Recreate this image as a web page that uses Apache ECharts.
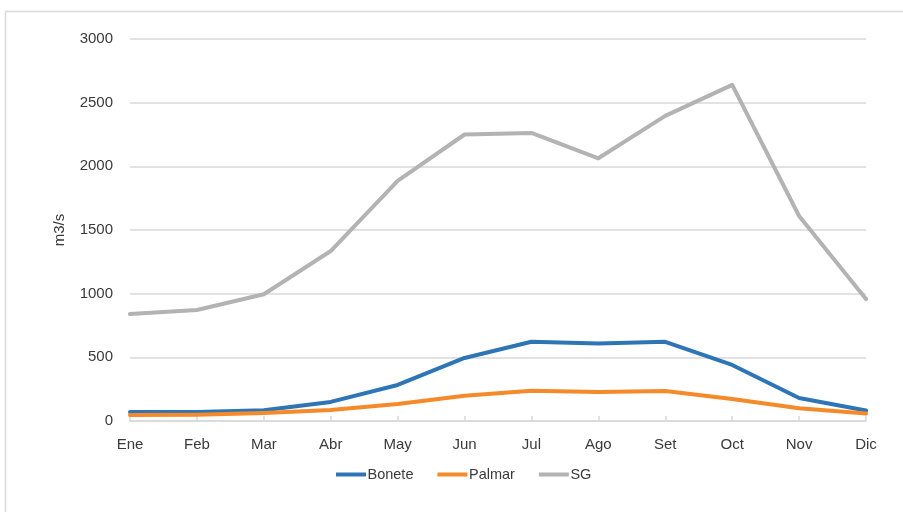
<!DOCTYPE html>
<html>
<head>
<meta charset="utf-8">
<script src="https://cdn.jsdelivr.net/npm/echarts@6/dist/echarts.min.js"></script>
<style>
  html, body { margin: 0; padding: 0; background: #ffffff; }
  #chart { width: 903px; height: 512px; }
</style>
</head>
<body>
<div id="chart"></div>
<script>
// Monthly flows (m3/s)
const months = ['Ene', 'Feb', 'Mar', 'Abr', 'May', 'Jun', 'Jul', 'Ago', 'Set', 'Oct', 'Nov', 'Dic'];
const bonete = [70, 70, 85, 150, 283, 495, 622, 608, 622, 440, 180, 82];
const palmar = [47, 50, 63, 86, 134, 198, 238, 228, 235, 173, 100, 58];
const sg = [840, 872, 995, 1335, 1885, 2250, 2262, 2063, 2396, 2640, 1610, 958];
const yTicks = { min: 0, max: 3000, interval: 500 };

const font = '"Liberation Sans", Arial, sans-serif';
const textColor = '#3a3a3a';

function lineSeries(name, data, color) {
  return {
    name: name,
    type: 'line',
    data: data,
    symbol: 'none',
    smooth: false,
    lineStyle: { width: 4, color: color, cap: 'round', join: 'round' },
    itemStyle: { color: color }
  };
}

const chart = echarts.init(document.getElementById('chart'), null, { renderer: 'canvas' });
chart.setOption({
  animation: false,
  backgroundColor: '#ffffff',
  graphic: [{
    type: 'rect',
    shape: { x: 5.5, y: 11.5, width: 950, height: 560 },
    style: { fill: 'none', stroke: '#d9d9d9', lineWidth: 1.5 },
    silent: true
  }],
  grid: { left: 130, right: 37, top: 39, bottom: 91, containLabel: false },
  legend: {
    data: ['Bonete', 'Palmar', 'SG'],
    bottom: 25,
    left: 331,
    icon: 'path://M0,0 L30,0 L30,4 L0,4 Z',
    itemWidth: 33,
    itemHeight: 4,
    itemGap: 24,
    textStyle: { fontFamily: font, fontSize: 14.5, color: textColor, padding: [0, 0, 0, -5] }
  },
  xAxis: {
    type: 'category',
    data: months,
    boundaryGap: false,
    axisLine: { lineStyle: { color: '#d9d9d9', width: 1.5 } },
    axisTick: { show: true, inside: true, length: 5, alignWithLabel: true, lineStyle: { color: '#d9d9d9', width: 1.5 } },
    axisLabel: { fontFamily: font, fontSize: 15, color: textColor, margin: 16 },
    splitLine: { show: false }
  },
  yAxis: {
    type: 'value',
    min: yTicks.min,
    max: yTicks.max,
    interval: yTicks.interval,
    name: 'm3/s',
    nameLocation: 'middle',
    nameGap: 63,
    nameRotate: 90,
    nameTextStyle: { fontFamily: font, fontSize: 15, color: textColor },
    axisLine: { show: false },
    axisTick: { show: false },
    axisLabel: { fontFamily: font, fontSize: 15, color: textColor, margin: 17, formatter: v => String(v) },
    splitLine: { lineStyle: { color: '#d9d9d9', width: 1.5 } }
  },
  series: [
    lineSeries('Bonete', bonete, '#2E75B6'),
    lineSeries('Palmar', palmar, '#F58A2A'),
    lineSeries('SG', sg, '#B3B3B3')
  ]
});
</script>
</body>
</html>
